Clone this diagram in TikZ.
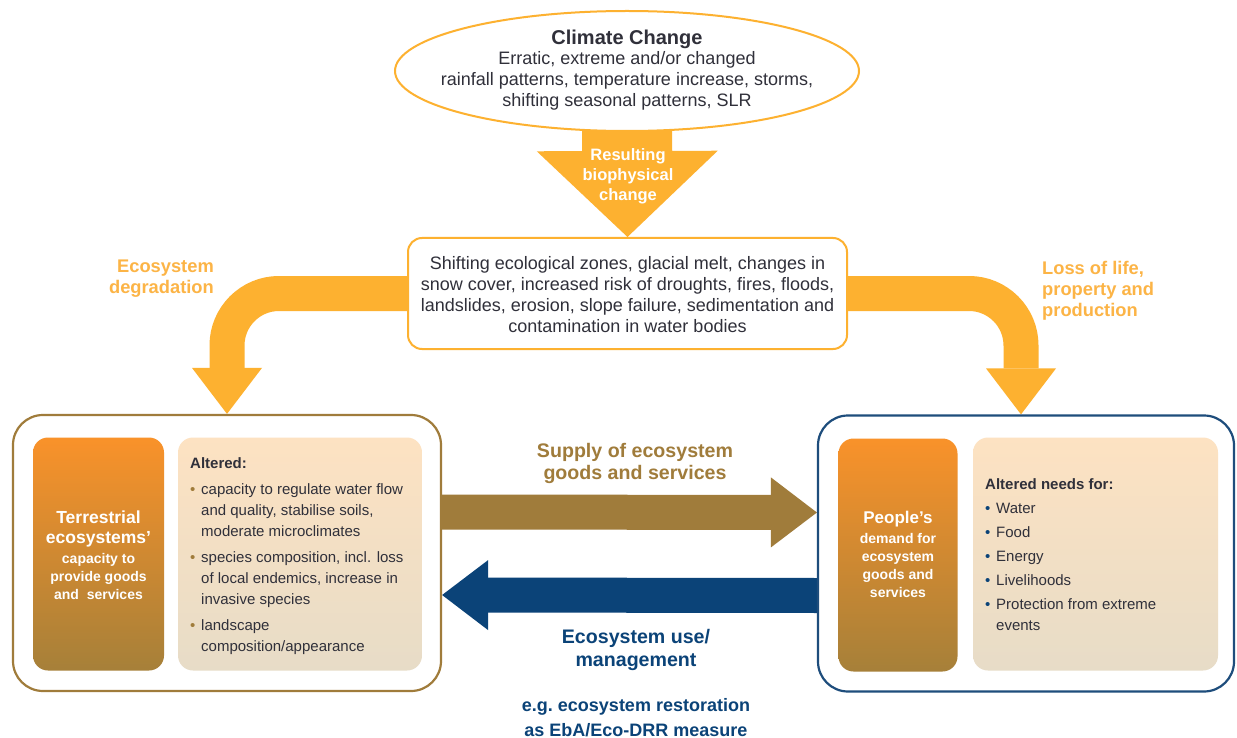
\documentclass[tikz,border=0pt]{standalone}
\usepackage{fontspec}
\setmainfont{Liberation Sans}
\usetikzlibrary{arrows.meta,shapes.geometric,backgrounds}

\definecolor{warm}{HTML}{FDB130}
\definecolor{warmtext}{HTML}{FCB446}
\definecolor{gold}{HTML}{A07C3B}
\definecolor{navy}{HTML}{0B4378}
\definecolor{navyline}{HTML}{1E4D7C}
\definecolor{txt}{HTML}{30303A}
\definecolor{ortop}{HTML}{F9922A}
\definecolor{orbot}{HTML}{A68039}
\definecolor{pchtop}{HTML}{FDE2C2}
\definecolor{pchbot}{HTML}{E7DCC7}

\newcommand{\goldbul}{\makebox[11pt][l]{\textcolor{gold}{•}}}
\newcommand{\navybul}{\makebox[11pt][l]{\textcolor{navy}{•}}}
\newcommand{\hang}{\hspace*{11pt}}

\begin{document}
\begin{tikzpicture}[x=1pt,y=-1pt,
  bigarrow/.style={line width=35pt,
    -{Triangle[width=70pt,length=46pt,line width=0pt]}},
  body/.style={font=\fontsize{18}{21}\selectfont, text=txt, align=center, inner sep=0pt},
  outerbox/.style={rounded corners=30pt, line width=2.2pt, fill=white,
    minimum width=#1, minimum height=276pt},
  orbox/.style={rounded corners=15pt, top color=ortop, bottom color=orbot,
    minimum width=#1, minimum height=233pt},
  headbig/.style={text=white, align=center, inner sep=0pt,
    font=\fontsize{17.5}{20}\selectfont\bfseries},
  headsmall/.style={text=white, align=center, inner sep=0pt,
    font=\fontsize{14}{18}\selectfont\bfseries},
  pchbox/.style={rounded corners=15pt, top color=pchtop, bottom color=pchbot,
    minimum width=#1, minimum height=233pt},
  list/.style={font=\fontsize{15}{21}\selectfont, text=txt, align=left,
    inner sep=0pt, anchor=north west},
  caption/.style={font=\fontsize{19.6}{22}\selectfont\bfseries, align=center, inner sep=0pt},
  sidelabel/.style={font=\fontsize{18.3}{21}\selectfont\bfseries, text=warmtext,
    inner sep=0pt}
]
\useasboundingbox (0,0) rectangle (1237,738);

% climate change ellipse
\node[ellipse, draw=warm, line width=2pt, fill=white, minimum width=464pt,
  minimum height=120pt] (cc) at (627,71) {};
\node[font=\fontsize{20}{22}\selectfont\bfseries, text=txt, inner sep=0pt]
  (cctitle) at (627,39.5) {Climate Change};
\node[body] (cctext) at (627,81)
  {Erratic, extreme and/or changed\\
   rainfall patterns, temperature increase, storms,\\
   shifting seasonal patterns, SLR};

\node[font=\fontsize{16.5}{20}\selectfont\bfseries, text=white, align=center, inner sep=0pt]
  (res) at (628,176) {Resulting\\biophysical\\change};

% biophysical change box
\node[draw=warm, line width=2pt, rounded corners=14pt, fill=white,
  minimum width=439pt, minimum height=111pt] (mid) at (627.5,293.5) {};
\node[body] (midtext) at (627.5,295)
  {Shifting ecological zones, glacial melt, changes in\\
   snow cover, increased risk of droughts, fires, floods,\\
   landslides, erosion, slope failure, sedimentation and\\
   contamination in water bodies};

% ecosystems panel
\node[outerbox=428pt, draw=gold] (terr) at (227,553) {};
\node[orbox=131pt] (terrhead) at (98.5,554) {};
\node[headbig] (terrname) at (98.5,529) {Terrestrial\\ecosystems’};
\node[headsmall] (terrsub) at (98.5,576) {capacity to\\provide goods\\and\ \ services};
\node[pchbox=244pt] (terrlist) at (300,554) {};
\node[list] (terrtext) at (190,457)
  {\textbf{Altered:}\\[5pt]
   \goldbul capacity to regulate water flow\\
   \hang and quality, stabilise soils,\\
   \hang moderate microclimates\\[5pt]
   \goldbul species composition, incl. loss\\
   \hang of local endemics, increase in\\
   \hang invasive species\\[5pt]
   \goldbul landscape\\
   \hang composition/appearance};

% people panel
\node[outerbox=416pt, draw=navyline] (ppl) at (1026,553.5) {};
\node[orbox=119pt] (pplhead) at (898,555) {};
\node[headbig, font=\fontsize{17}{20}\selectfont\bfseries] (pplname) at (898,519.5) {People’s};
\node[headsmall] (pplsub) at (898,565) {demand for\\ecosystem\\goods and\\services};
\node[pchbox=245pt] (ppllist) at (1095.5,554) {};
\node[list, font=\fontsize{15}{24}\selectfont] (ppltext) at (985,478.5)
  {\textbf{Altered needs for:}\\
   \navybul Water\\
   \navybul Food\\
   \navybul Energy\\
   \navybul Livelihoods\\
   \navybul Protection from extreme\\[-3pt]
   \hang events};

% arrow labels
\node[sidelabel, align=right, anchor=east] (degr) at (214,279) {Ecosystem\\degradation};
\node[sidelabel, align=left, anchor=west] (loss) at (1042,291) {Loss of life,\\property and\\production};
\node[caption, text=gold] (supply) at (635,463) {Supply of ecosystem\\goods and services};
\node[caption, text=navy, font=\fontsize{19.6}{23}\selectfont\bfseries] (use) at (636,649.5) {Ecosystem use/\\management};
\node[font=\fontsize{18}{25}\selectfont\bfseries, text=navy, align=center, inner sep=0pt]
  (eg) at (636,717.5) {e.g.\ ecosystem restoration\\as EbA/Eco-DRR measure};

% connectors, drawn beneath the boxes
\begin{scope}[on background layer]
  \fill[white] (0,0) rectangle (1237,738);
  \draw[warm, line width=90pt,
    -{Triangle[width=181pt,length=86pt,line width=0pt]}] (cc.center) -- (mid.north);
  \draw[warm, bigarrow, rounded corners=52pt] (mid.west) -| (terr.north);
  \draw[warm, bigarrow, rounded corners=52pt] (mid.east) -| ([xshift=-5pt]ppl.north);
  \draw[gold, bigarrow] ([yshift=41pt]terr.east) -- ([yshift=41pt]ppl.west);
  \draw[navy, bigarrow] ([yshift=-42pt]ppl.west) -- ([yshift=-42pt]terr.east);
\end{scope}
\end{tikzpicture}
\end{document}
